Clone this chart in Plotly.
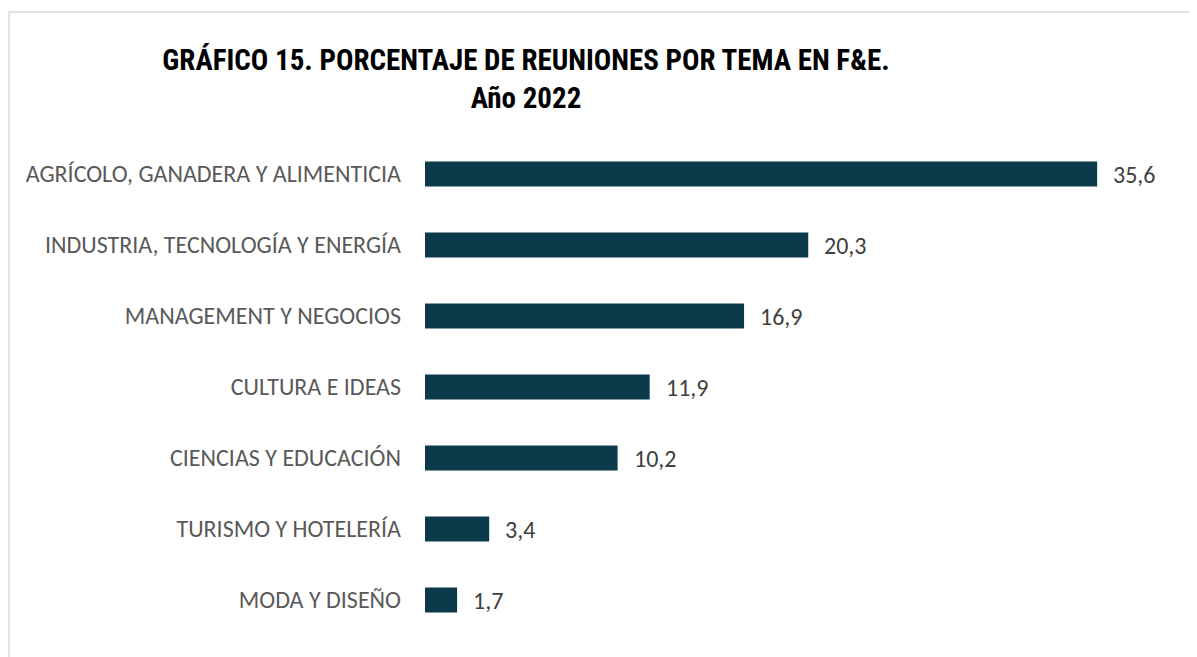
import plotly.graph_objects as go

categories = [
    "AGRÍCOLO, GANADERA Y ALIMENTICIA",
    "INDUSTRIA, TECNOLOGÍA Y ENERGÍA",
    "MANAGEMENT Y NEGOCIOS",
    "CULTURA E IDEAS",
    "CIENCIAS Y EDUCACIÓN",
    "TURISMO Y HOTELERÍA",
    "MODA Y DISEÑO",
]
values = [35.6, 20.3, 16.9, 11.9, 10.2, 3.4, 1.7]
labels = [f"{v:.1f}".replace(".", ",") for v in values]

W, H = 1197, 657
BAR = "#0b3a4a"
LABEL_FONT = "Carlito, Calibri, 'Noto Sans', sans-serif"

fig = go.Figure()
fig.add_trace(go.Bar(
    x=values, y=categories, orientation="h",
    marker=dict(color=BAR, line=dict(width=0)),
    width=0.35, hoverinfo="skip",
))

for v, c, t in zip(values, categories, labels):
    fig.add_annotation(x=v, y=c, xref="x", yref="y", text=t, showarrow=False,
                       xanchor="left", yanchor="middle", xshift=14,
                       font=dict(family=LABEL_FONT, size=24, color="#404040"))

x0 = 417
fig.update_layout(
    width=W, height=H,
    template="none",
    margin=dict(l=0, r=0, t=0, b=0),
    paper_bgcolor="white", plot_bgcolor="white",
    showlegend=False,
    title=dict(
        text="GRÁFICO 15. PORCENTAJE DE REUNIONES POR TEMA EN F&E.<br>Año 2022",
        x=518 / W, xanchor="center", xref="paper",
        y=1 - 62 / H, yanchor="top", yref="paper",
        font=dict(family="'Roboto Condensed', 'Open Sans Condensed', sans-serif", size=29, color="black", weight="bold"),
    ),
    xaxis=dict(domain=[x0 / W, 1], range=[0, (W - x0) / 18.88], showgrid=False, zeroline=False,
               showline=False, showticklabels=False, ticks="", automargin=False, fixedrange=True),
    yaxis=dict(domain=[1 - 627.5 / H, 1 - 130.5 / H], categoryorder="array", categoryarray=categories[::-1],
               showgrid=False, zeroline=False, showline=False, ticks="", automargin=False,
               ticklabelstandoff=23, fixedrange=True,
               tickfont=dict(family=LABEL_FONT, size=24, color="#595959")),
    shapes=[dict(type="rect", xref="paper", yref="paper", x0=1 / W, x1=1.01, y0=-0.05, y1=1 - 4 / H,
                 line=dict(color="#d9d9d9", width=1.5), fillcolor="rgba(0,0,0,0)", layer="below")],
)

fig.write_html("out.html")
